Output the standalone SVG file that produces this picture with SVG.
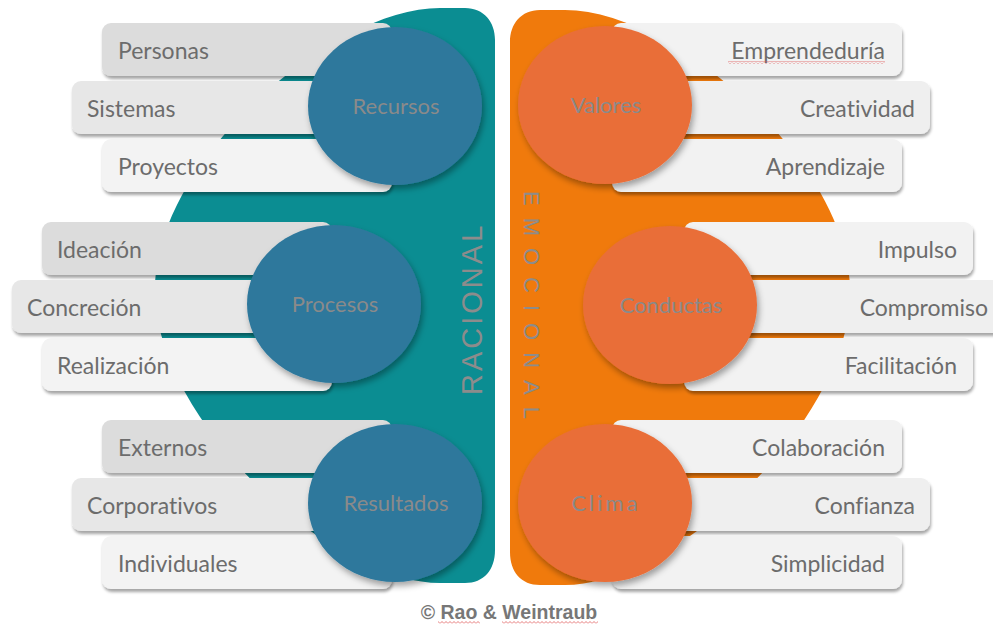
<svg xmlns="http://www.w3.org/2000/svg" width="993" height="627" viewBox="0 0 993 627">
<defs>
<style>
.lbl{font-family:Lato,"Open Sans","Liberation Sans",sans-serif;font-size:23px;fill:#6C6C6C;font-variant-ligatures:none}
.r{text-anchor:end}
.cl{font-family:Lato,"Open Sans","Liberation Sans",sans-serif;font-size:22px;fill:#8A8A8A;text-anchor:middle;font-variant-ligatures:none}
.box{filter:url(#bs)}
.blue{fill:#2E789C;filter:url(#cs)}
.org{fill:#E96E38;filter:url(#cs)}
.vert{font-family:"Liberation Sans",Arial,sans-serif;fill:#8C8C8C}
</style>
<filter id="bs" x="-5%" y="-20%" width="110%" height="150%">
<feDropShadow dx="1" dy="3" stdDeviation="1.5" flood-color="#000" flood-opacity="0.35"/>
</filter>
<filter id="cs" x="-10%" y="-10%" width="125%" height="125%">
<feDropShadow dx="2" dy="4" stdDeviation="3" flood-color="#000" flood-opacity="0.35"/>
</filter>
<pattern id="squig" width="4" height="3" patternUnits="userSpaceOnUse">
<path d="M0 2.5 L2 0.5 L4 2.5" fill="none" stroke="#E05A5A" stroke-width="0.8"/>
</pattern>
</defs>
<rect width="993" height="627" fill="#FFFFFF"/>

<g id="racional">
<path d="M495,40 C495,22 484,8 465,8 L440,8 C330,8 150,165 155,295 C158,420 330,583 440,583 L465,583 C484,583 495,570 495,550 Z" fill="#0B8D92"/>
<text class="vert" transform="translate(482,395) rotate(-90)" font-size="29" letter-spacing="3">RACIONAL</text>
</g>
<g id="emocional">
<path d="M510,42 C510,24 521,10 540,10 L565,10 C675,10 855,167 850,297 C847,422 675,585 565,585 L540,585 C521,585 510,572 510,552 Z" fill="#F07A0C"/>
<text class="vert" transform="translate(524,191) rotate(90)" font-size="22" letter-spacing="12">EMOCIONAL</text>
</g>

<g id="connectors"></g>

<g id="box-personas"><rect class="box" x="102" y="23" width="290" height="53" rx="9" fill="#DCDCDC"/><text class="lbl" x="118" y="59">Personas</text></g>
<g id="box-sistemas"><rect class="box" x="72" y="81" width="320" height="53" rx="9" fill="#E7E7E7"/><text class="lbl" x="87" y="117">Sistemas</text></g>
<g id="box-proyectos"><rect class="box" x="102" y="139" width="290" height="53" rx="9" fill="#F3F3F3"/><text class="lbl" x="118" y="175">Proyectos</text></g>

<g id="box-ideacion"><rect class="box" x="42" y="222" width="290" height="53" rx="9" fill="#DCDCDC"/><text class="lbl" x="57" y="258">Ideación</text></g>
<g id="box-concrecion"><rect class="box" x="12" y="280" width="320" height="53" rx="9" fill="#E7E7E7"/><text class="lbl" x="27" y="316">Concreción</text></g>
<g id="box-realizacion"><rect class="box" x="42" y="338" width="290" height="53" rx="9" fill="#F3F3F3"/><text class="lbl" x="57" y="374">Realización</text></g>

<g id="box-externos"><rect class="box" x="102" y="420" width="290" height="53" rx="9" fill="#DCDCDC"/><text class="lbl" x="118" y="456">Externos</text></g>
<g id="box-corporativos"><rect class="box" x="72" y="478" width="320" height="53" rx="9" fill="#E7E7E7"/><text class="lbl" x="87" y="514">Corporativos</text></g>
<g id="box-individuales"><rect class="box" x="102" y="536" width="290" height="53" rx="9" fill="#F3F3F3"/><text class="lbl" x="118" y="572">Individuales</text></g>

<g id="box-emprendeduria"><rect class="box" x="612" y="23" width="290" height="53" rx="9" fill="#F2F2F2"/><text class="lbl r" x="885" y="59">Emprendeduría</text><rect x="728" y="61" width="157" height="3" fill="url(#squig)"/></g>
<g id="box-creatividad"><rect class="box" x="612" y="81" width="318" height="53" rx="9" fill="#EFEFEF"/><text class="lbl r" x="915" y="117">Creatividad</text></g>
<g id="box-aprendizaje"><rect class="box" x="612" y="139" width="290" height="53" rx="9" fill="#F2F2F2"/><text class="lbl r" x="885" y="175">Aprendizaje</text></g>

<g id="box-impulso"><rect class="box" x="684" y="222" width="289" height="53" rx="9" fill="#F2F2F2"/><text class="lbl r" x="957" y="258">Impulso</text></g>
<g id="box-compromiso"><rect class="box" x="684" y="280" width="322" height="53" rx="9" fill="#EFEFEF"/><text class="lbl r" x="988" y="316">Compromiso</text></g>
<g id="box-facilitacion"><rect class="box" x="684" y="338" width="289" height="53" rx="9" fill="#F2F2F2"/><text class="lbl r" x="957" y="374">Facilitación</text></g>

<g id="box-colaboracion"><rect class="box" x="612" y="420" width="290" height="53" rx="9" fill="#F2F2F2"/><text class="lbl r" x="885" y="456">Colaboración</text></g>
<g id="box-confianza"><rect class="box" x="612" y="478" width="318" height="53" rx="9" fill="#EFEFEF"/><text class="lbl r" x="915" y="514">Confianza</text></g>
<g id="box-simplicidad"><rect class="box" x="612" y="536" width="290" height="53" rx="9" fill="#F2F2F2"/><text class="lbl r" x="885" y="572">Simplicidad</text></g>

<g id="node-recursos"><ellipse class="blue" cx="395" cy="106" rx="87" ry="79"/><text class="cl" x="396" y="114">Recursos</text></g>
<g id="node-procesos"><ellipse class="blue" cx="334" cy="304" rx="87" ry="79"/><text class="cl" x="335" y="312">Procesos</text></g>
<g id="node-resultados"><ellipse class="blue" cx="395" cy="503" rx="87" ry="79"/><text class="cl" x="396" y="511">Resultados</text></g>
<g id="node-valores"><ellipse class="org" cx="605" cy="105" rx="87" ry="79"/><text class="cl" x="606" y="113">Valores</text></g>
<g id="node-conductas"><ellipse class="org" cx="670" cy="305" rx="87" ry="79"/><text class="cl" x="671" y="313">Conductas</text></g>
<g id="node-clima"><ellipse class="org" cx="605" cy="503" rx="87" ry="79"/><text class="cl" x="606" y="511" letter-spacing="3">Clima</text></g>

<g id="credit">
<text x="509" y="619" text-anchor="middle" font-family="'Liberation Sans',Arial,sans-serif" font-weight="bold" font-size="19.5" fill="#777777">© Rao &amp; Weintraub</text>
<rect x="438" y="621" width="42" height="3" fill="url(#squig)"/>
<rect x="502" y="621" width="96" height="3" fill="url(#squig)"/>
</g>
</svg>
